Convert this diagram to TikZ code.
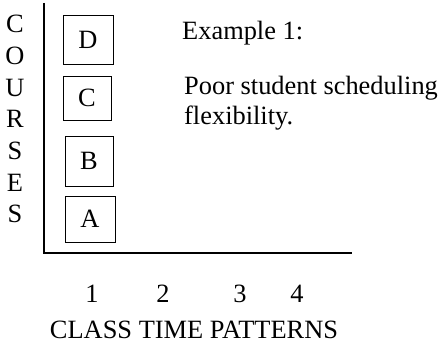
\documentclass[tikz,border=0pt]{standalone}
\usepackage{fontspec}
\setmainfont{Liberation Serif}
\begin{document}
\begin{tikzpicture}[x=1pt,y=-1pt,
  txt/.style={font=\fontsize{26.4}{30}\selectfont, inner sep=0pt, anchor=base},
  course/.style={draw, line width=0.9pt, font=\fontsize{26.4}{30}\selectfont, inner sep=0pt},
  axis/.style={line width=1.1pt}]
\useasboundingbox (0,0) rectangle (438,344);
% axes
\coordinate (top) at (44,3);
\coordinate (origin) at (44,253);
\coordinate (right) at (352,253);
\draw[axis] (top) -- (origin) -- (right);
% course boxes
\node[course, minimum width=50pt, minimum height=49pt] (D) at (88,39.5) {D};
\node[course, minimum width=48pt, minimum height=44pt] (C) at (87,98) {C};
\node[course, minimum width=48pt, minimum height=50pt] (B) at (89,161) {B};
\node[course, minimum width=50pt, minimum height=46pt] (A) at (90,219) {A};
% vertical label
\node[txt] (l1) at (15,33) {C};
\node[txt] (l2) at (15,65) {O};
\node[txt] (l3) at (15,97) {U};
\node[txt] (l4) at (15,128) {R};
\node[txt] (l5) at (15,160) {S};
\node[txt] (l6) at (15,192) {E};
\node[txt] (l7) at (15,223) {S};
% text
\node[txt, anchor=base west] (ex) at (182,40) {Example 1:};
\node[txt, anchor=base west] (p1) at (184,95) {Poor student scheduling};
\node[txt, anchor=base west] (p2) at (184,125) {flexibility.};
% x labels
\node[txt] (n1) at (92,302) {1};
\node[txt] (n2) at (163,302) {2};
\node[txt] (n3) at (240,302) {3};
\node[txt] (n4) at (297,302) {4};
\node[txt] (xl) at (194,338) {CLASS TIME PATTERNS};
\end{tikzpicture}
\end{document}
